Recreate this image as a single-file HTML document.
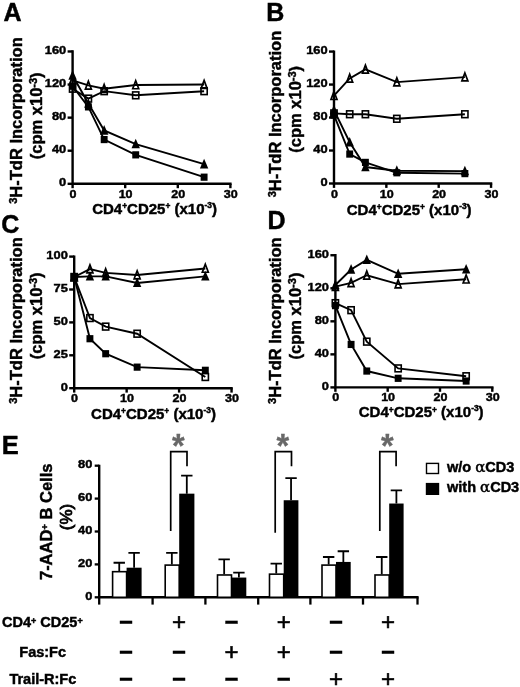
<!DOCTYPE html>
<html lang="en"><head><meta charset="utf-8"><title>Figure</title>
<style>html,body{margin:0;padding:0;background:#fff}body{width:520px;height:687px;overflow:hidden}svg{display:block;filter:blur(0.45px)}text{font-family:"Liberation Sans", Arial, Helvetica, sans-serif;fill:#000;stroke:#000;stroke-width:0.45px}</style>
</head><body>
<svg width="520" height="687" viewBox="0 0 520 687">
<rect width="520" height="687" fill="#fff"/>
<text x="3.5" y="21.2" font-size="25" font-weight="700">A</text>
<path d="M72.6 50.28V183.8H231.6" fill="none" stroke="#000" stroke-width="2.4"/>
<line x1="67.6" y1="183.8" x2="72.6" y2="183.8" stroke="#000" stroke-width="2.4"/>
<text transform="translate(66.2 186.1) scale(1.1 1)" font-size="11.7" font-weight="700" text-anchor="end">0</text>
<line x1="67.6" y1="150.72" x2="72.6" y2="150.72" stroke="#000" stroke-width="2.4"/>
<text transform="translate(66.2 153.02) scale(1.1 1)" font-size="11.7" font-weight="700" text-anchor="end">40</text>
<line x1="67.6" y1="117.64" x2="72.6" y2="117.64" stroke="#000" stroke-width="2.4"/>
<text transform="translate(66.2 119.94) scale(1.1 1)" font-size="11.7" font-weight="700" text-anchor="end">80</text>
<line x1="67.6" y1="84.56" x2="72.6" y2="84.56" stroke="#000" stroke-width="2.4"/>
<text transform="translate(66.2 86.86) scale(1.1 1)" font-size="11.7" font-weight="700" text-anchor="end">120</text>
<line x1="67.6" y1="51.48" x2="72.6" y2="51.48" stroke="#000" stroke-width="2.4"/>
<text transform="translate(66.2 53.78) scale(1.1 1)" font-size="11.7" font-weight="700" text-anchor="end">160</text>
<line x1="72.6" y1="183.8" x2="72.6" y2="188.2" stroke="#000" stroke-width="2.4"/>
<text transform="translate(73 197.8) scale(1.08 1)" font-size="11.6" font-weight="700" text-anchor="middle">0</text>
<line x1="125.2" y1="183.8" x2="125.2" y2="188.2" stroke="#000" stroke-width="2.4"/>
<text transform="translate(125.6 197.8) scale(1.08 1)" font-size="11.6" font-weight="700" text-anchor="middle">10</text>
<line x1="177.8" y1="183.8" x2="177.8" y2="188.2" stroke="#000" stroke-width="2.4"/>
<text transform="translate(178.2 197.8) scale(1.08 1)" font-size="11.6" font-weight="700" text-anchor="middle">20</text>
<line x1="230.4" y1="183.8" x2="230.4" y2="188.2" stroke="#000" stroke-width="2.4"/>
<text transform="translate(230.8 197.8) scale(1.08 1)" font-size="11.6" font-weight="700" text-anchor="middle">30</text>
<text x="154.6" y="213.6" font-size="15" font-weight="700" text-anchor="middle">CD4<tspan font-size="8.4" dy="-4.3">+</tspan><tspan dy="4.3">CD25</tspan><tspan font-size="8.4" dy="-4.3">+</tspan><tspan dy="4.3"> (x10</tspan><tspan font-size="8.4" dy="-5.4">-3</tspan><tspan dy="5.4">)</tspan></text>
<text transform="translate(21.9 120.5) rotate(-90)" font-size="16.5" font-weight="700" text-anchor="middle"><tspan font-size="11" dy="-5">3</tspan><tspan dy="5">H-TdR Incorporation</tspan></text>
<text transform="translate(41.8 115.8) rotate(-90)" font-size="16.5" font-weight="700" text-anchor="middle">(cpm x10<tspan font-size="11" dy="-5">-3</tspan><tspan dy="5">)</tspan></text>
<polyline points="72.6,80.43 88.38,85.39 104.16,88.7 135.72,84.97 204.1,84.56" fill="none" stroke="#000" stroke-width="1.9"/>
<polyline points="72.6,88.7 88.38,98.62 104.16,91.18 135.72,95.31 204.1,91.18" fill="none" stroke="#000" stroke-width="1.9"/>
<polyline points="72.6,75.46 88.38,103.58 104.16,130.46 135.72,144.1 204.1,164.2" fill="none" stroke="#000" stroke-width="1.9"/>
<polyline points="72.6,86.21 88.38,106.89 104.16,139.56 135.72,154.86 204.1,177.18" fill="none" stroke="#000" stroke-width="1.9"/>
<polygon points="72.6,76.23 75.6,84.23 69.6,84.23" fill="none" stroke="#000" stroke-width="1.7" stroke-linejoin="miter"/>
<polygon points="88.38,81.19 91.38,89.19 85.38,89.19" fill="none" stroke="#000" stroke-width="1.7" stroke-linejoin="miter"/>
<polygon points="104.16,84.5 107.16,92.5 101.16,92.5" fill="none" stroke="#000" stroke-width="1.7" stroke-linejoin="miter"/>
<polygon points="135.72,80.77 138.72,88.77 132.72,88.77" fill="none" stroke="#000" stroke-width="1.7" stroke-linejoin="miter"/>
<polygon points="204.1,80.36 207.1,88.36 201.1,88.36" fill="none" stroke="#000" stroke-width="1.7" stroke-linejoin="miter"/>
<rect x="69.5" y="85.3" width="6.2" height="6.8" fill="none" stroke="#000" stroke-width="1.6"/>
<rect x="85.28" y="95.22" width="6.2" height="6.8" fill="none" stroke="#000" stroke-width="1.6"/>
<rect x="101.06" y="87.78" width="6.2" height="6.8" fill="none" stroke="#000" stroke-width="1.6"/>
<rect x="132.62" y="91.91" width="6.2" height="6.8" fill="none" stroke="#000" stroke-width="1.6"/>
<rect x="201" y="87.78" width="6.2" height="6.8" fill="none" stroke="#000" stroke-width="1.6"/>
<polygon points="72.6,70.06 76.8,79.66 68.4,79.66" fill="#000"/>
<polygon points="88.38,98.18 92.58,107.78 84.18,107.78" fill="#000"/>
<polygon points="104.16,125.06 108.36,134.66 99.96,134.66" fill="#000"/>
<polygon points="135.72,138.7 139.92,148.3 131.52,148.3" fill="#000"/>
<polygon points="204.1,158.8 208.3,168.4 199.9,168.4" fill="#000"/>
<rect x="69.15" y="82.61" width="6.9" height="7.2" fill="#000"/>
<rect x="84.93" y="103.29" width="6.9" height="7.2" fill="#000"/>
<rect x="100.71" y="135.96" width="6.9" height="7.2" fill="#000"/>
<rect x="132.27" y="151.26" width="6.9" height="7.2" fill="#000"/>
<rect x="200.65" y="173.58" width="6.9" height="7.2" fill="#000"/>
<text x="266.2" y="20.8" font-size="25" font-weight="700">B</text>
<path d="M334 50.38V183.5H492.25" fill="none" stroke="#000" stroke-width="2.4"/>
<line x1="329" y1="183.5" x2="334" y2="183.5" stroke="#000" stroke-width="2.4"/>
<text transform="translate(327.6 185.8) scale(1.1 1)" font-size="11.7" font-weight="700" text-anchor="end">0</text>
<line x1="329" y1="150.52" x2="334" y2="150.52" stroke="#000" stroke-width="2.4"/>
<text transform="translate(327.6 152.82) scale(1.1 1)" font-size="11.7" font-weight="700" text-anchor="end">40</text>
<line x1="329" y1="117.54" x2="334" y2="117.54" stroke="#000" stroke-width="2.4"/>
<text transform="translate(327.6 119.84) scale(1.1 1)" font-size="11.7" font-weight="700" text-anchor="end">80</text>
<line x1="329" y1="84.56" x2="334" y2="84.56" stroke="#000" stroke-width="2.4"/>
<text transform="translate(327.6 86.86) scale(1.1 1)" font-size="11.7" font-weight="700" text-anchor="end">120</text>
<line x1="329" y1="51.58" x2="334" y2="51.58" stroke="#000" stroke-width="2.4"/>
<text transform="translate(327.6 53.88) scale(1.1 1)" font-size="11.7" font-weight="700" text-anchor="end">160</text>
<line x1="334" y1="183.5" x2="334" y2="187.9" stroke="#000" stroke-width="2.4"/>
<text transform="translate(334.4 197.5) scale(1.08 1)" font-size="11.6" font-weight="700" text-anchor="middle">0</text>
<line x1="386.35" y1="183.5" x2="386.35" y2="187.9" stroke="#000" stroke-width="2.4"/>
<text transform="translate(386.75 197.5) scale(1.08 1)" font-size="11.6" font-weight="700" text-anchor="middle">10</text>
<line x1="438.7" y1="183.5" x2="438.7" y2="187.9" stroke="#000" stroke-width="2.4"/>
<text transform="translate(439.1 197.5) scale(1.08 1)" font-size="11.6" font-weight="700" text-anchor="middle">20</text>
<line x1="491.05" y1="183.5" x2="491.05" y2="187.9" stroke="#000" stroke-width="2.4"/>
<text transform="translate(491.45 197.5) scale(1.08 1)" font-size="11.6" font-weight="700" text-anchor="middle">30</text>
<text x="409.2" y="214.6" font-size="15" font-weight="700" text-anchor="middle">CD4<tspan font-size="8.4" dy="-4.3">+</tspan><tspan dy="4.3">CD25</tspan><tspan font-size="8.4" dy="-4.3">+</tspan><tspan dy="4.3"> (x10</tspan><tspan font-size="8.4" dy="-5.4">-3</tspan><tspan dy="5.4">)</tspan></text>
<text transform="translate(281.1 114) rotate(-90)" font-size="16.5" font-weight="700" text-anchor="middle"><tspan font-size="11" dy="-5">3</tspan><tspan dy="5">H-TdR Incorporation</tspan></text>
<text transform="translate(301 109.3) rotate(-90)" font-size="16.5" font-weight="700" text-anchor="middle">(cpm x10<tspan font-size="11" dy="-5">-3</tspan><tspan dy="5">)</tspan></text>
<polyline points="334,95.69 349.7,78.38 365.41,69.31 396.82,82.09 464.88,77.14" fill="none" stroke="#000" stroke-width="1.9"/>
<polyline points="334,113.42 349.7,114.24 365.41,114.24 396.82,118.78 464.88,114.24" fill="none" stroke="#000" stroke-width="1.9"/>
<polyline points="334,110.12 349.7,142.28 365.41,167.01 396.82,170.72 464.88,171.13" fill="none" stroke="#000" stroke-width="1.9"/>
<polyline points="334,115.07 349.7,154.07 365.41,162.39 396.82,172.78 464.88,173.61" fill="none" stroke="#000" stroke-width="1.9"/>
<polygon points="334,91.49 337,99.49 331,99.49" fill="none" stroke="#000" stroke-width="1.7" stroke-linejoin="miter"/>
<polygon points="349.7,74.18 352.7,82.18 346.7,82.18" fill="none" stroke="#000" stroke-width="1.7" stroke-linejoin="miter"/>
<polygon points="365.41,65.11 368.41,73.11 362.41,73.11" fill="none" stroke="#000" stroke-width="1.7" stroke-linejoin="miter"/>
<polygon points="396.82,77.89 399.82,85.89 393.82,85.89" fill="none" stroke="#000" stroke-width="1.7" stroke-linejoin="miter"/>
<polygon points="464.88,72.94 467.88,80.94 461.88,80.94" fill="none" stroke="#000" stroke-width="1.7" stroke-linejoin="miter"/>
<rect x="330.9" y="110.02" width="6.2" height="6.8" fill="none" stroke="#000" stroke-width="1.6"/>
<rect x="346.6" y="110.84" width="6.2" height="6.8" fill="none" stroke="#000" stroke-width="1.6"/>
<rect x="362.31" y="110.84" width="6.2" height="6.8" fill="none" stroke="#000" stroke-width="1.6"/>
<rect x="393.72" y="115.38" width="6.2" height="6.8" fill="none" stroke="#000" stroke-width="1.6"/>
<rect x="461.77" y="110.84" width="6.2" height="6.8" fill="none" stroke="#000" stroke-width="1.6"/>
<polygon points="334,104.72 338.2,114.32 329.8,114.32" fill="#000"/>
<polygon points="349.7,136.88 353.9,146.47 345.5,146.47" fill="#000"/>
<polygon points="365.41,161.61 369.61,171.21 361.21,171.21" fill="#000"/>
<polygon points="396.82,165.32 401.02,174.92 392.62,174.92" fill="#000"/>
<polygon points="464.88,165.73 469.07,175.33 460.68,175.33" fill="#000"/>
<rect x="330.55" y="111.47" width="6.9" height="7.2" fill="#000"/>
<rect x="346.25" y="150.47" width="6.9" height="7.2" fill="#000"/>
<rect x="361.96" y="158.79" width="6.9" height="7.2" fill="#000"/>
<rect x="393.37" y="169.18" width="6.9" height="7.2" fill="#000"/>
<rect x="461.43" y="170.01" width="6.9" height="7.2" fill="#000"/>
<text x="1.3" y="232.8" font-size="25" font-weight="700">C</text>
<path d="M74.2 255.4V388.2H232.75" fill="none" stroke="#000" stroke-width="2.4"/>
<line x1="69.2" y1="388.2" x2="74.2" y2="388.2" stroke="#000" stroke-width="2.4"/>
<text transform="translate(67.8 390.5) scale(1.1 1)" font-size="11.7" font-weight="700" text-anchor="end">0</text>
<line x1="69.2" y1="355.3" x2="74.2" y2="355.3" stroke="#000" stroke-width="2.4"/>
<text transform="translate(67.8 357.6) scale(1.1 1)" font-size="11.7" font-weight="700" text-anchor="end">25</text>
<line x1="69.2" y1="322.4" x2="74.2" y2="322.4" stroke="#000" stroke-width="2.4"/>
<text transform="translate(67.8 324.7) scale(1.1 1)" font-size="11.7" font-weight="700" text-anchor="end">50</text>
<line x1="69.2" y1="289.5" x2="74.2" y2="289.5" stroke="#000" stroke-width="2.4"/>
<text transform="translate(67.8 291.8) scale(1.1 1)" font-size="11.7" font-weight="700" text-anchor="end">75</text>
<line x1="69.2" y1="256.6" x2="74.2" y2="256.6" stroke="#000" stroke-width="2.4"/>
<text transform="translate(67.8 258.9) scale(1.1 1)" font-size="11.7" font-weight="700" text-anchor="end">100</text>
<line x1="74.2" y1="388.2" x2="74.2" y2="392.6" stroke="#000" stroke-width="2.4"/>
<text transform="translate(74.6 402.2) scale(1.08 1)" font-size="11.6" font-weight="700" text-anchor="middle">0</text>
<line x1="126.65" y1="388.2" x2="126.65" y2="392.6" stroke="#000" stroke-width="2.4"/>
<text transform="translate(127.05 402.2) scale(1.08 1)" font-size="11.6" font-weight="700" text-anchor="middle">10</text>
<line x1="179.1" y1="388.2" x2="179.1" y2="392.6" stroke="#000" stroke-width="2.4"/>
<text transform="translate(179.5 402.2) scale(1.08 1)" font-size="11.6" font-weight="700" text-anchor="middle">20</text>
<line x1="231.55" y1="388.2" x2="231.55" y2="392.6" stroke="#000" stroke-width="2.4"/>
<text transform="translate(231.95 402.2) scale(1.08 1)" font-size="11.6" font-weight="700" text-anchor="middle">30</text>
<text x="153.5" y="418.6" font-size="15" font-weight="700" text-anchor="middle">CD4<tspan font-size="8.4" dy="-4.3">+</tspan><tspan dy="4.3">CD25</tspan><tspan font-size="8.4" dy="-4.3">+</tspan><tspan dy="4.3"> (x10</tspan><tspan font-size="8.4" dy="-5.4">-3</tspan><tspan dy="5.4">)</tspan></text>
<text transform="translate(21.9 320.5) rotate(-90)" font-size="16.5" font-weight="700" text-anchor="middle"><tspan font-size="11" dy="-5">3</tspan><tspan dy="5">H-TdR Incorporation</tspan></text>
<text transform="translate(41.8 315.8) rotate(-90)" font-size="16.5" font-weight="700" text-anchor="middle">(cpm x10<tspan font-size="11" dy="-5">-3</tspan><tspan dy="5">)</tspan></text>
<polyline points="74.2,277 89.94,269.1 105.67,272.92 137.14,275.02 205.32,268.44" fill="none" stroke="#000" stroke-width="1.9"/>
<polyline points="74.2,277 89.94,276.34 105.67,276.34 137.14,282.92 205.32,276.34" fill="none" stroke="#000" stroke-width="1.9"/>
<polyline points="74.2,277 89.94,318.06 105.67,326.61 137.14,333.72 205.32,377.01" fill="none" stroke="#000" stroke-width="1.9"/>
<polyline points="74.2,277 89.94,338.72 105.67,353.72 137.14,367.14 205.32,370.3" fill="none" stroke="#000" stroke-width="1.9"/>
<polygon points="74.2,272.8 77.2,280.8 71.2,280.8" fill="none" stroke="#000" stroke-width="1.7" stroke-linejoin="miter"/>
<polygon points="89.94,264.9 92.94,272.9 86.94,272.9" fill="none" stroke="#000" stroke-width="1.7" stroke-linejoin="miter"/>
<polygon points="105.67,268.72 108.67,276.72 102.67,276.72" fill="none" stroke="#000" stroke-width="1.7" stroke-linejoin="miter"/>
<polygon points="137.14,270.82 140.14,278.82 134.14,278.82" fill="none" stroke="#000" stroke-width="1.7" stroke-linejoin="miter"/>
<polygon points="205.32,264.24 208.32,272.24 202.32,272.24" fill="none" stroke="#000" stroke-width="1.7" stroke-linejoin="miter"/>
<polygon points="74.2,271.6 78.4,281.2 70,281.2" fill="#000"/>
<polygon points="89.94,270.94 94.14,280.54 85.73,280.54" fill="#000"/>
<polygon points="105.67,270.94 109.87,280.54 101.47,280.54" fill="#000"/>
<polygon points="137.14,277.52 141.34,287.12 132.94,287.12" fill="#000"/>
<polygon points="205.32,270.94 209.52,280.54 201.12,280.54" fill="#000"/>
<rect x="71.1" y="273.6" width="6.2" height="6.8" fill="none" stroke="#000" stroke-width="1.6"/>
<rect x="86.84" y="314.66" width="6.2" height="6.8" fill="none" stroke="#000" stroke-width="1.6"/>
<rect x="102.57" y="323.21" width="6.2" height="6.8" fill="none" stroke="#000" stroke-width="1.6"/>
<rect x="134.04" y="330.32" width="6.2" height="6.8" fill="none" stroke="#000" stroke-width="1.6"/>
<rect x="202.22" y="373.61" width="6.2" height="6.8" fill="none" stroke="#000" stroke-width="1.6"/>
<rect x="70.75" y="273.4" width="6.9" height="7.2" fill="#000"/>
<rect x="86.48" y="335.12" width="6.9" height="7.2" fill="#000"/>
<rect x="102.22" y="350.12" width="6.9" height="7.2" fill="#000"/>
<rect x="133.69" y="363.54" width="6.9" height="7.2" fill="#000"/>
<rect x="201.88" y="366.7" width="6.9" height="7.2" fill="#000"/>
<text x="267.6" y="229.1" font-size="25" font-weight="700">D</text>
<path d="M335.4 254.04V387.4H493.5" fill="none" stroke="#000" stroke-width="2.4"/>
<line x1="330.4" y1="387.4" x2="335.4" y2="387.4" stroke="#000" stroke-width="2.4"/>
<text transform="translate(329 389.7) scale(1.1 1)" font-size="11.7" font-weight="700" text-anchor="end">0</text>
<line x1="330.4" y1="354.36" x2="335.4" y2="354.36" stroke="#000" stroke-width="2.4"/>
<text transform="translate(329 356.66) scale(1.1 1)" font-size="11.7" font-weight="700" text-anchor="end">40</text>
<line x1="330.4" y1="321.32" x2="335.4" y2="321.32" stroke="#000" stroke-width="2.4"/>
<text transform="translate(329 323.62) scale(1.1 1)" font-size="11.7" font-weight="700" text-anchor="end">80</text>
<line x1="330.4" y1="288.28" x2="335.4" y2="288.28" stroke="#000" stroke-width="2.4"/>
<text transform="translate(329 290.58) scale(1.1 1)" font-size="11.7" font-weight="700" text-anchor="end">120</text>
<line x1="330.4" y1="255.24" x2="335.4" y2="255.24" stroke="#000" stroke-width="2.4"/>
<text transform="translate(329 257.54) scale(1.1 1)" font-size="11.7" font-weight="700" text-anchor="end">160</text>
<line x1="335.4" y1="387.4" x2="335.4" y2="391.8" stroke="#000" stroke-width="2.4"/>
<text transform="translate(335.8 401.4) scale(1.08 1)" font-size="11.6" font-weight="700" text-anchor="middle">0</text>
<line x1="387.7" y1="387.4" x2="387.7" y2="391.8" stroke="#000" stroke-width="2.4"/>
<text transform="translate(388.1 401.4) scale(1.08 1)" font-size="11.6" font-weight="700" text-anchor="middle">10</text>
<line x1="440" y1="387.4" x2="440" y2="391.8" stroke="#000" stroke-width="2.4"/>
<text transform="translate(440.4 401.4) scale(1.08 1)" font-size="11.6" font-weight="700" text-anchor="middle">20</text>
<line x1="492.3" y1="387.4" x2="492.3" y2="391.8" stroke="#000" stroke-width="2.4"/>
<text transform="translate(492.7 401.4) scale(1.08 1)" font-size="11.6" font-weight="700" text-anchor="middle">30</text>
<text x="421.2" y="416.8" font-size="15" font-weight="700" text-anchor="middle">CD4<tspan font-size="8.4" dy="-4.3">+</tspan><tspan dy="4.3">CD25</tspan><tspan font-size="8.4" dy="-4.3">+</tspan><tspan dy="4.3"> (x10</tspan><tspan font-size="8.4" dy="-5.4">-3</tspan><tspan dy="5.4">)</tspan></text>
<text transform="translate(281 320.7) rotate(-90)" font-size="16.5" font-weight="700" text-anchor="middle"><tspan font-size="11" dy="-5">3</tspan><tspan dy="5">H-TdR Incorporation</tspan></text>
<text transform="translate(300.9 316) rotate(-90)" font-size="16.5" font-weight="700" text-anchor="middle">(cpm x10<tspan font-size="11" dy="-5">-3</tspan><tspan dy="5">)</tspan></text>
<polyline points="335.4,284.98 351.09,269.45 366.78,259.87 398.16,273.82 466.15,269.28" fill="none" stroke="#000" stroke-width="1.9"/>
<polyline points="335.4,286.63 351.09,282.91 366.78,275.23 398.16,284.15 466.15,279.19" fill="none" stroke="#000" stroke-width="1.9"/>
<polyline points="335.4,303.15 351.09,310.17 366.78,341.64 398.16,368.4 466.15,376.25" fill="none" stroke="#000" stroke-width="1.9"/>
<polyline points="335.4,305.63 351.09,344.45 366.78,371.05 398.16,378.31 466.15,381.04" fill="none" stroke="#000" stroke-width="1.9"/>
<polygon points="335.4,279.58 339.6,289.18 331.2,289.18" fill="#000"/>
<polygon points="351.09,264.05 355.29,273.65 346.89,273.65" fill="#000"/>
<polygon points="366.78,254.47 370.98,264.07 362.58,264.07" fill="#000"/>
<polygon points="398.16,268.43 402.36,278.02 393.96,278.02" fill="#000"/>
<polygon points="466.15,263.88 470.35,273.48 461.95,273.48" fill="#000"/>
<polygon points="335.4,282.43 338.4,290.43 332.4,290.43" fill="none" stroke="#000" stroke-width="1.7" stroke-linejoin="miter"/>
<polygon points="351.09,278.71 354.09,286.71 348.09,286.71" fill="none" stroke="#000" stroke-width="1.7" stroke-linejoin="miter"/>
<polygon points="366.78,271.03 369.78,279.03 363.78,279.03" fill="none" stroke="#000" stroke-width="1.7" stroke-linejoin="miter"/>
<polygon points="398.16,279.95 401.16,287.95 395.16,287.95" fill="none" stroke="#000" stroke-width="1.7" stroke-linejoin="miter"/>
<polygon points="466.15,274.99 469.15,282.99 463.15,282.99" fill="none" stroke="#000" stroke-width="1.7" stroke-linejoin="miter"/>
<rect x="332.3" y="299.75" width="6.2" height="6.8" fill="none" stroke="#000" stroke-width="1.6"/>
<rect x="347.99" y="306.77" width="6.2" height="6.8" fill="none" stroke="#000" stroke-width="1.6"/>
<rect x="363.68" y="338.24" width="6.2" height="6.8" fill="none" stroke="#000" stroke-width="1.6"/>
<rect x="395.06" y="365" width="6.2" height="6.8" fill="none" stroke="#000" stroke-width="1.6"/>
<rect x="463.05" y="372.85" width="6.2" height="6.8" fill="none" stroke="#000" stroke-width="1.6"/>
<rect x="331.95" y="302.03" width="6.9" height="7.2" fill="#000"/>
<rect x="347.64" y="340.85" width="6.9" height="7.2" fill="#000"/>
<rect x="363.33" y="367.45" width="6.9" height="7.2" fill="#000"/>
<rect x="394.71" y="374.71" width="6.9" height="7.2" fill="#000"/>
<rect x="462.7" y="377.44" width="6.9" height="7.2" fill="#000"/>
<text x="1.8" y="453.6" font-size="25.5" font-weight="700">E</text>
<path d="M99.2 464.8V597.3H418.6" fill="none" stroke="#000" stroke-width="2.4"/>
<line x1="94.7" y1="597.3" x2="99.2" y2="597.3" stroke="#000" stroke-width="2.3"/>
<text transform="translate(92.3 599.9) scale(1.1 1)" font-size="11.7" font-weight="700" text-anchor="end">0</text>
<line x1="94.7" y1="564.4" x2="99.2" y2="564.4" stroke="#000" stroke-width="2.3"/>
<text transform="translate(92.3 567) scale(1.1 1)" font-size="11.7" font-weight="700" text-anchor="end">20</text>
<line x1="94.7" y1="531.5" x2="99.2" y2="531.5" stroke="#000" stroke-width="2.3"/>
<text transform="translate(92.3 534.1) scale(1.1 1)" font-size="11.7" font-weight="700" text-anchor="end">40</text>
<line x1="94.7" y1="498.6" x2="99.2" y2="498.6" stroke="#000" stroke-width="2.3"/>
<text transform="translate(92.3 501.2) scale(1.1 1)" font-size="11.7" font-weight="700" text-anchor="end">60</text>
<line x1="94.7" y1="465.7" x2="99.2" y2="465.7" stroke="#000" stroke-width="2.3"/>
<text transform="translate(92.3 468.3) scale(1.1 1)" font-size="11.7" font-weight="700" text-anchor="end">80</text>
<line x1="99.2" y1="597.3" x2="99.2" y2="604.6" stroke="#000" stroke-width="2.3"/>
<line x1="152.6" y1="597.3" x2="152.6" y2="604.6" stroke="#000" stroke-width="2.3"/>
<line x1="205.4" y1="597.3" x2="205.4" y2="604.6" stroke="#000" stroke-width="2.3"/>
<line x1="258.2" y1="597.3" x2="258.2" y2="604.6" stroke="#000" stroke-width="2.3"/>
<line x1="310.4" y1="597.3" x2="310.4" y2="604.6" stroke="#000" stroke-width="2.3"/>
<line x1="363" y1="597.3" x2="363" y2="604.6" stroke="#000" stroke-width="2.3"/>
<line x1="417.5" y1="597.3" x2="417.5" y2="604.6" stroke="#000" stroke-width="2.3"/>
<path d="M119.25 570.98V562.75M113.55 562.75H124.95" fill="none" stroke="#000" stroke-width="1.8"/>
<path d="M134.1 567.69V552.88M128.4 552.88H139.8" fill="none" stroke="#000" stroke-width="1.8"/>
<rect x="112.6" y="571.68" width="14" height="25.62" fill="#fff" stroke="#000" stroke-width="1.6"/>
<rect x="126.6" y="567.69" width="15" height="29.61" fill="#000"/>
<path d="M171.85 564.4V552.88M166.15 552.88H177.55" fill="none" stroke="#000" stroke-width="1.8"/>
<path d="M186.8 493.66V475.57M181.1 475.57H192.5" fill="none" stroke="#000" stroke-width="1.8"/>
<rect x="165.2" y="565.1" width="14" height="32.2" fill="#fff" stroke="#000" stroke-width="1.6"/>
<rect x="179.2" y="493.66" width="15.2" height="103.63" fill="#000"/>
<path d="M224.15 574.27V559.46M218.45 559.46H229.85" fill="none" stroke="#000" stroke-width="1.8"/>
<path d="M238.9 577.56V572.62M233.2 572.62H244.6" fill="none" stroke="#000" stroke-width="1.8"/>
<rect x="217.5" y="574.97" width="14" height="22.33" fill="#fff" stroke="#000" stroke-width="1.6"/>
<rect x="231.5" y="577.56" width="14.8" height="19.74" fill="#000"/>
<path d="M276.25 573.45V563.58M270.55 563.58H281.95" fill="none" stroke="#000" stroke-width="1.8"/>
<path d="M291.05 500.24V478.04M285.35 478.04H296.75" fill="none" stroke="#000" stroke-width="1.8"/>
<rect x="269.5" y="574.15" width="14.2" height="23.15" fill="#fff" stroke="#000" stroke-width="1.6"/>
<rect x="283.7" y="500.24" width="14.7" height="97.06" fill="#000"/>
<path d="M328.65 564.4V557M322.95 557H334.35" fill="none" stroke="#000" stroke-width="1.8"/>
<path d="M343.35 561.93V551.24M337.65 551.24H349.05" fill="none" stroke="#000" stroke-width="1.8"/>
<rect x="322" y="565.1" width="14" height="32.2" fill="#fff" stroke="#000" stroke-width="1.6"/>
<rect x="336" y="561.93" width="14.7" height="35.37" fill="#000"/>
<path d="M381.75 574.27V557M376.05 557H387.45" fill="none" stroke="#000" stroke-width="1.8"/>
<path d="M396.4 503.53V490.37M390.7 490.37H402.1" fill="none" stroke="#000" stroke-width="1.8"/>
<rect x="375" y="574.97" width="14.2" height="22.33" fill="#fff" stroke="#000" stroke-width="1.6"/>
<rect x="389.2" y="503.53" width="14.4" height="93.76" fill="#000"/>
<path d="M170.7 531V451.7H187V466.2" fill="none" stroke="#000" stroke-width="1.7"/>
<text x="178.35" y="457.2" font-size="32.5" font-weight="700" text-anchor="middle" style="fill:#686868;stroke:#686868;stroke-width:0.3px">*</text>
<path d="M275.2 532.8V451.7H291.5V466.2" fill="none" stroke="#000" stroke-width="1.7"/>
<text x="282.85" y="457.2" font-size="32.5" font-weight="700" text-anchor="middle" style="fill:#686868;stroke:#686868;stroke-width:0.3px">*</text>
<path d="M379.8 531V451.7H396.1V466.2" fill="none" stroke="#000" stroke-width="1.7"/>
<text x="387.45" y="457.2" font-size="32.5" font-weight="700" text-anchor="middle" style="fill:#686868;stroke:#686868;stroke-width:0.3px">*</text>
<rect x="426.5" y="463.4" width="12" height="10.1" fill="#fff" stroke="#000" stroke-width="1.4"/>
<rect x="425.8" y="482.9" width="13.4" height="12.1" fill="#000"/>
<text x="447" y="472.1" font-size="14.5" font-weight="700">w/o <tspan font-family="'DejaVu Serif', 'Liberation Serif', serif" font-weight="400" font-size="15">α</tspan>CD3</text>
<text x="447" y="492.3" font-size="14.5" font-weight="700">with <tspan font-family="'DejaVu Serif', 'Liberation Serif', serif" font-weight="400" font-size="15">α</tspan>CD3</text>
<text transform="translate(51.9 521.8) rotate(-90)" font-size="16.5" font-weight="700" text-anchor="middle">7-AAD<tspan font-size="9.5" dy="-4.2">+</tspan><tspan dy="4.2"> B Cells</tspan></text>
<text transform="translate(71.6 517) rotate(-90)" font-size="17" font-weight="400" text-anchor="middle" style="stroke-width:0.85px">(%)</text>
<text x="2" y="626.8" font-size="14.5" font-weight="700">CD4<tspan font-size="9" dy="-3.1">+</tspan><tspan dy="3.1"> CD25</tspan><tspan font-size="9" dy="-3.1">+</tspan></text>
<text x="19.3" y="656.6" font-size="14.5" font-weight="700">Fas:Fc</text>
<text x="9.4" y="683.9" font-size="14.5" font-weight="700">Trail-R:Fc</text>
<text x="126" y="629.6" font-size="24" font-weight="700" text-anchor="middle" style="stroke-width:0.4px">−</text>
<text x="179" y="629.6" font-size="24" font-weight="400" text-anchor="middle" style="stroke-width:0.6px">+</text>
<text x="231.5" y="629.6" font-size="24" font-weight="700" text-anchor="middle" style="stroke-width:0.4px">−</text>
<text x="283.7" y="629.6" font-size="24" font-weight="400" text-anchor="middle" style="stroke-width:0.6px">+</text>
<text x="336" y="629.6" font-size="24" font-weight="700" text-anchor="middle" style="stroke-width:0.4px">−</text>
<text x="388" y="629.6" font-size="24" font-weight="400" text-anchor="middle" style="stroke-width:0.6px">+</text>
<text x="126" y="659.6" font-size="24" font-weight="700" text-anchor="middle" style="stroke-width:0.4px">−</text>
<text x="179" y="659.6" font-size="24" font-weight="700" text-anchor="middle" style="stroke-width:0.4px">−</text>
<text x="231.5" y="659.6" font-size="24" font-weight="400" text-anchor="middle" style="stroke-width:0.6px">+</text>
<text x="283.7" y="659.6" font-size="24" font-weight="400" text-anchor="middle" style="stroke-width:0.6px">+</text>
<text x="336" y="659.6" font-size="24" font-weight="700" text-anchor="middle" style="stroke-width:0.4px">−</text>
<text x="388" y="659.6" font-size="24" font-weight="700" text-anchor="middle" style="stroke-width:0.4px">−</text>
<text x="126" y="687.2" font-size="24" font-weight="700" text-anchor="middle" style="stroke-width:0.4px">−</text>
<text x="179" y="687.2" font-size="24" font-weight="700" text-anchor="middle" style="stroke-width:0.4px">−</text>
<text x="231.5" y="687.2" font-size="24" font-weight="700" text-anchor="middle" style="stroke-width:0.4px">−</text>
<text x="283.7" y="687.2" font-size="24" font-weight="700" text-anchor="middle" style="stroke-width:0.4px">−</text>
<text x="336" y="687.2" font-size="24" font-weight="400" text-anchor="middle" style="stroke-width:0.6px">+</text>
<text x="388" y="687.2" font-size="24" font-weight="400" text-anchor="middle" style="stroke-width:0.6px">+</text>
</svg>
</body></html>
